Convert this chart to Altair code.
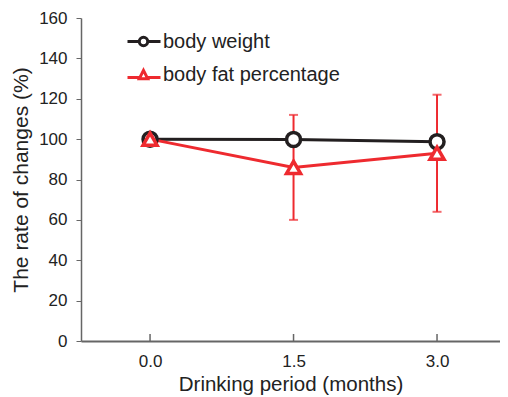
import altair as alt
import pandas as pd

months = ["0.0", "1.5", "3.0"]
weight = [100, 99.8, 98.7]
fat = [100, 86, 93]
fat_err = [0, 26, 29]
series = ["body weight", "body fat percentage"]
colors = ["#231f20", "#ee2a2f"]

FONT = "Liberation Sans"

rows = []
for m, w in zip(months, weight):
    rows.append({"month": m, "series": series[0], "value": w, "err": 0})
for m, f, e in zip(months, fat, fat_err):
    rows.append({"month": m, "series": series[1], "value": f, "err": e})
df = pd.DataFrame(rows)
df["lo"] = df["value"] - df["err"]
df["hi"] = df["value"] + df["err"]

x_enc = alt.X("month:O", sort=months,
              scale=alt.Scale(type="point", padding=0.46, align=0.523),
              axis=alt.Axis(title="Drinking period (months)", labelAngle=0,
                            ticks=False, tickSize=0, labelPadding=12,
                            titlePadding=5, titleFontSize=20.5, domainWidth=2))
y_scale = alt.Scale(domain=[0, 160])
y_axis = alt.Axis(title="The rate of changes (%)", values=list(range(0, 161, 20)),
                  tickSize=5, labelPadding=9, titlePadding=7, titleFontSize=21,
                  domainWidth=1.5)

base = alt.Chart(df)

err = df[df["err"] > 0]
err_base = alt.Chart(err)
err_rule = err_base.mark_rule(color=colors[1], strokeWidth=2).encode(
    x=x_enc, y=alt.Y("lo:Q", scale=y_scale, axis=y_axis), y2="hi:Q")
cap_lo = err_base.mark_tick(color=colors[1], thickness=2, size=9, orient="horizontal").encode(
    x=x_enc, y=alt.Y("lo:Q", scale=y_scale))
cap_hi = err_base.mark_tick(color=colors[1], thickness=2, size=9, orient="horizontal").encode(
    x=x_enc, y=alt.Y("hi:Q", scale=y_scale))

xticks = alt.Chart(pd.DataFrame({"month": months})).mark_rule(color="#666", strokeWidth=1.5).encode(
    x=x_enc, y=alt.value(323), y2=alt.value(316))

w_line = base.transform_filter(alt.datum.series == series[0]).mark_line(
    color=colors[0], strokeWidth=3).encode(x=x_enc, y=alt.Y("value:Q", scale=y_scale, axis=y_axis))
f_line = base.transform_filter(alt.datum.series == series[1]).mark_line(
    color=colors[1], strokeWidth=3).encode(x=x_enc, y=alt.Y("value:Q", scale=y_scale))
w_pts = base.transform_filter(alt.datum.series == series[0]).mark_point(
    shape="circle", size=196, filled=True, fill="white", stroke=colors[0],
    strokeWidth=3.5, opacity=1).encode(x=x_enc, y=alt.Y("value:Q", scale=y_scale))
f_pts = base.transform_filter(alt.datum.series == series[1]).mark_point(
    shape="triangle-up", size=196, filled=True, fill="white", stroke=colors[1],
    strokeWidth=3.5, opacity=1).encode(x=x_enc, y=alt.Y("value:Q", scale=y_scale))

circle_path = ("M-1.6,0L-0.42,0M0.42,0L1.7,0"
               "M-0.42,0A0.42,0.42,0,1,1,0.42,0A0.42,0.42,0,1,1,-0.42,0Z")
tri_path = "M-1.6,0.3L-0.36,0.3M0.36,0.3L1.7,0.3M0,-0.42L0.42,0.42L-0.42,0.42Z"

legend_layer = base.mark_point(size=0, opacity=1, strokeWidth=0).encode(
    x=x_enc, y=alt.Y("value:Q", scale=y_scale),
    color=alt.Color("series:N", scale=alt.Scale(domain=series, range=colors),
                    legend=alt.Legend(title=None, orient="none", legendX=51, legendY=12,
                                      symbolSize=400, symbolStrokeWidth=3,
                                      symbolFillColor="white", labelFontSize=20,
                                      labelFont=FONT, labelColor="#222", labelLimit=400,
                                      labelOffset=8, rowPadding=11, padding=0)),
    shape=alt.Shape("series:N", scale=alt.Scale(domain=series, range=[circle_path, tri_path])),
)

chart = alt.layer(err_rule, cap_lo, cap_hi, xticks, w_line, f_line, w_pts, f_pts, legend_layer).properties(
    width=419, height=323,
    autosize=alt.AutoSizeParams(type="none"),
    padding={"left": 73, "top": 10, "right": 0, "bottom": 56},
).configure_view(stroke=None).configure_axis(
    grid=False, labelFont=FONT, titleFont=FONT, labelFontSize=17, titleFontSize=20,
    labelColor="#222", titleColor="#222", domainColor="#666", tickColor="#666",
    titleFontWeight="normal",
)

chart.save("out.html", embed_options={"renderer": "svg", "actions": False})
